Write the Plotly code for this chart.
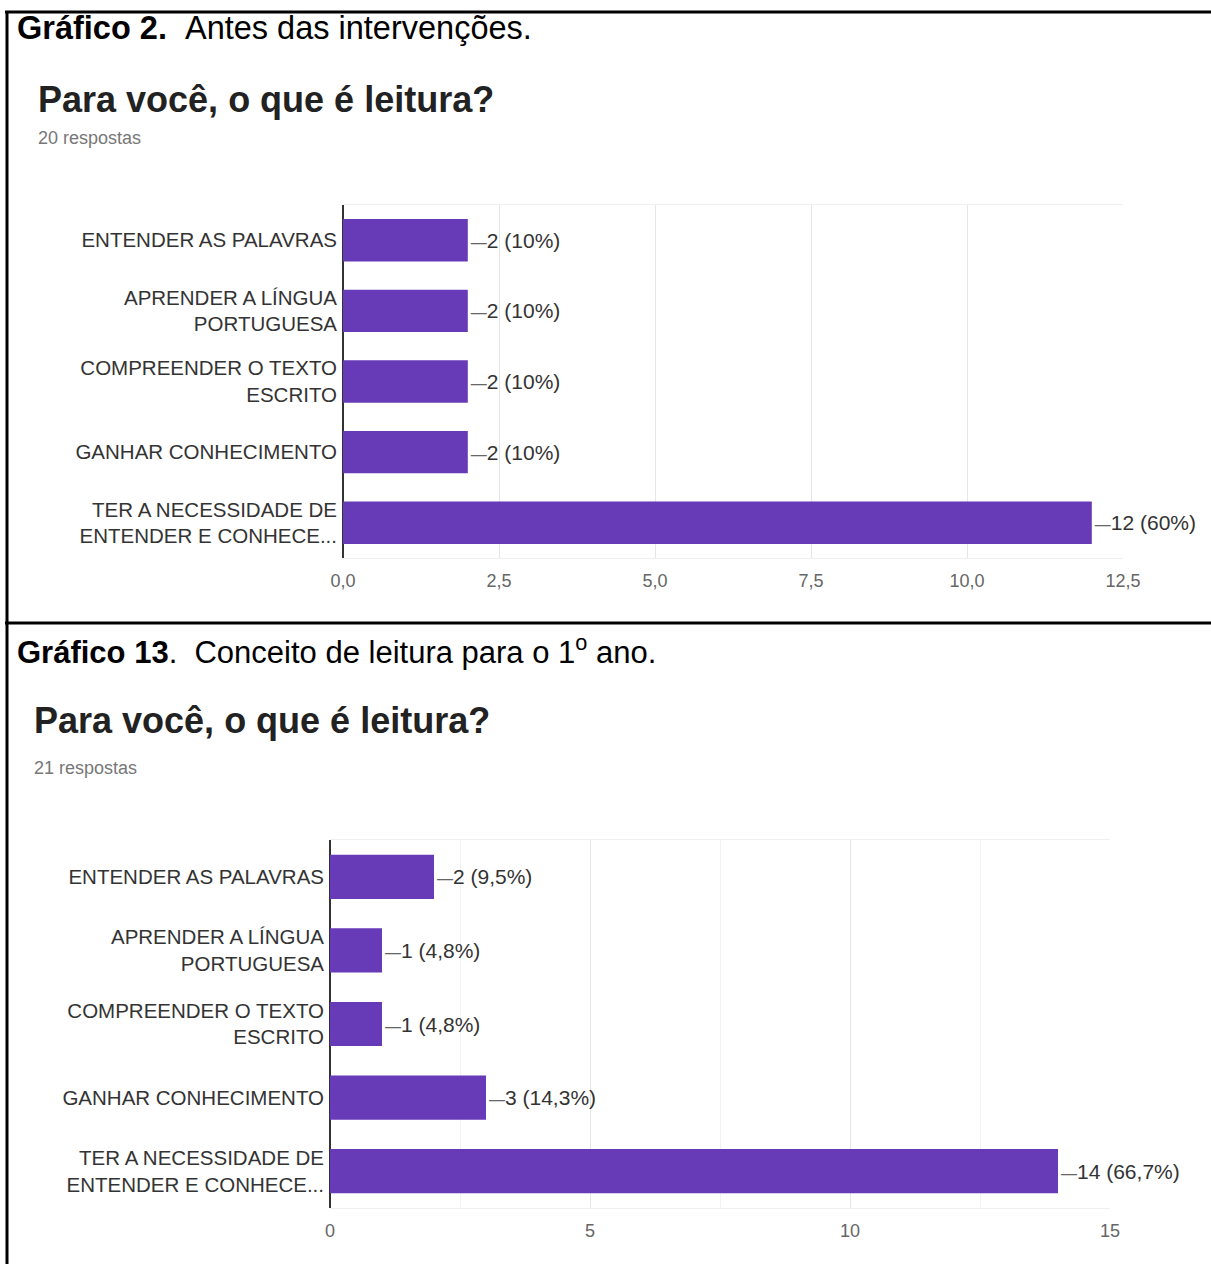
import plotly.graph_objects as go

# ---------------- data ----------------
categories = [
    "ENTENDER AS PALAVRAS",
    "APRENDER A LÍNGUA<br>PORTUGUESA",
    "COMPREENDER O TEXTO<br>ESCRITO",
    "GANHAR CONHECIMENTO",
    "TER A NECESSIDADE DE<br>ENTENDER E CONHECE...",
]
values_antes = [2, 2, 2, 2, 12]
values_1ano = [2, 1, 1, 3, 14]
respostas_antes = 20
respostas_1ano = 21
tickvals_antes = [0, 2.5, 5, 7.5, 10, 12.5]
ticktext_antes = ["0,0", "2,5", "5,0", "7,5", "10,0", "12,5"]
tickvals_1ano = [0, 5, 10, 15]
ticktext_1ano = ["0", "5", "10", "15"]

heading_antes = "<b>Gráfico 2.</b>\u00a0\u00a0Antes das intervenções."
heading_1ano = "<b>Gráfico 13</b>.\u00a0\u00a0Conceito de leitura para o 1<sup>o</sup> ano."
question = "Para você, o que é leitura?"

# ---------------- styles ----------------
W, H = 1211, 1264
PURPLE = "#673ab7"
FONT = "Liberation Sans, Arial, sans-serif"


def pct(v, n):
    p = round(100 * v / n, 1)
    s = f"{p:.1f}".rstrip("0").rstrip(".").replace(".", ",")
    return s + "%"


def labels(vals, n):
    return [
        '<span style="font-size:16px;color:#666666">\u2014</span>' + f"{v} ({pct(v, n)})"
        for v in vals
    ]


def px(x):
    return x / W


def py(y):
    return 1 - y / H


fig = go.Figure()

for vals, n, xa, ya in [
    (values_antes, respostas_antes, "x", "y"),
    (values_1ano, respostas_1ano, "x2", "y2"),
]:
    fig.add_trace(
        go.Bar(
            y=categories,
            x=vals,
            orientation="h",
            width=0.6,
            marker=dict(color=PURPLE, line=dict(width=0)),
            text=labels(vals, n),
            textposition="outside",
            textfont=dict(family=FONT, size=21, color="#333333"),
            outsidetextfont=dict(family=FONT, size=21, color="#333333"),
            cliponaxis=False,
            hoverinfo="skip",
            xaxis=xa,
            yaxis=ya,
        )
    )

xcommon = dict(
    showgrid=True,
    gridcolor="#e6e6e6",
    gridwidth=1,
    zeroline=True,
    zerolinecolor="#333333",
    zerolinewidth=1.5,
    showline=True,
    linecolor="#f0f0f0",
    mirror=True,
    ticks="",
    ticklabelstandoff=6,
    tickfont=dict(family=FONT, size=18, color="#666666"),
    fixedrange=True,
    automargin=False,
)
ycommon = dict(
    type="category",
    autorange="reversed",
    showgrid=False,
    zeroline=False,
    showline=False,
    ticks="",
    ticklabelstandoff=5,
    tickfont=dict(family=FONT, size=20.5, color="#333333"),
    fixedrange=True,
    automargin=False,
)

fig.update_layout(
    width=W,
    height=H,
    autosize=False,
    margin=dict(l=0, r=0, t=0, b=0, pad=0, autoexpand=False),
    paper_bgcolor="white",
    plot_bgcolor="white",
    showlegend=False,
    separators=",.",
    bargap=0.4,
    xaxis=dict(
        domain=[px(343), px(1123)],
        range=[0, 12.5],
        tickvals=tickvals_antes,
        ticktext=ticktext_antes,
        anchor="y",
        **xcommon,
    ),
    yaxis=dict(domain=[py(558), py(205)], anchor="x", **ycommon),
    xaxis2=dict(
        domain=[px(330), px(1110)],
        range=[0, 15],
        tickvals=tickvals_1ano,
        ticktext=ticktext_1ano,
        minor=dict(dtick=2.5, tick0=0, showgrid=True, gridcolor="#f2f2f2"),
        anchor="y2",
        **xcommon,
    ),
    yaxis2=dict(domain=[py(1208), py(840)], anchor="x2", **ycommon),
)

ann = []
for text, x, y, size, color, bold in [
    (heading_antes, 15, 28, 32.5, "#000000", False),
    (question, 36, 100, 36, "#222222", True),
    (f"{respostas_antes} respostas", 36, 138, 18, "#777777", False),
    (heading_1ano, 15, 650, 31, "#000000", False),
    (question, 32, 720, 36, "#222222", True),
    (f"{respostas_1ano} respostas", 32, 768, 18, "#777777", False),
]:
    ann.append(
        dict(
            text=f"<b>{text}</b>" if bold else text,
            x=px(x),
            y=py(y),
            xref="paper",
            yref="paper",
            xanchor="left",
            yanchor="middle",
            showarrow=False,
            font=dict(family=FONT, size=size, color=color),
        )
    )
fig.update_layout(annotations=ann)

line = dict(color="black", width=3)
fig.update_layout(
    shapes=[
        dict(type="line", xref="paper", yref="paper", x0=px(5), x1=1, y0=py(12), y1=py(12), line=line),
        dict(type="line", xref="paper", yref="paper", x0=px(7), x1=px(7), y0=py(12), y1=0, line=line),
        dict(type="line", xref="paper", yref="paper", x0=px(5), x1=1, y0=py(623), y1=py(623), line=line),
    ]
)

fig.write_html(
    "out.html",
    config={"responsive": False, "displayModeBar": False},
    post_script=(
        "document.documentElement.style.margin='0px';"
        "document.body.style.margin='0px';"
        "document.body.style.padding='0px';"
        "document.body.style.overflow='hidden';"
        "var gd=document.getElementById('{plot_id}');"
        "gd.style.width='1211px';gd.style.height='1264px';"
        "Plotly.relayout(gd,{width:1211,height:1264});"
    ),
)
